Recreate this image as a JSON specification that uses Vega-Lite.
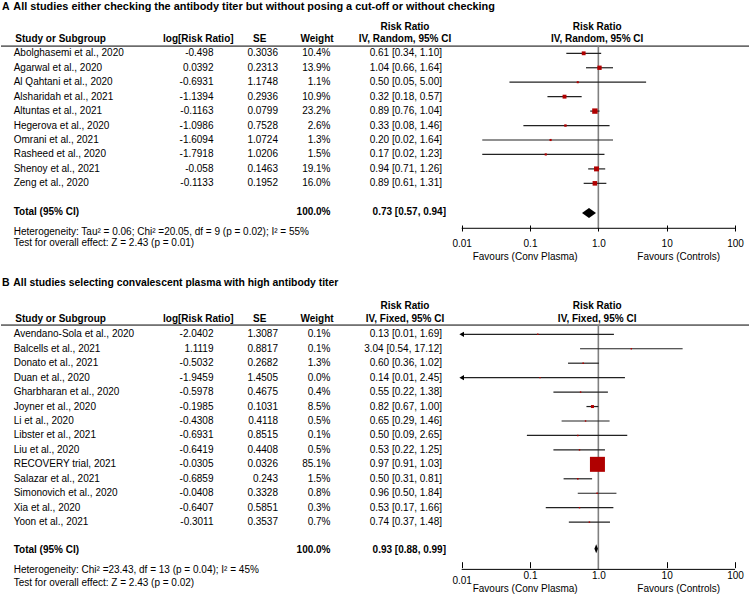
{
  "$schema": "https://vega.github.io/schema/vega-lite/v6.json",
  "padding": 0,
  "spacing": 0,
  "config": {"view": {"stroke": null}, "text": {"font": "Liberation Sans", "fontSize": 10, "color": "black"}},
  "resolve": {"scale": {"size": "independent"}},
  "datasets": {
    "studiesA": [
      {"study": "Abolghasemi et al., 2020", "logrr": "-0.498", "se": "0.3036", "weight": "10.4%", "ci": "0.61 [0.34, 1.10]", "rr": 0.61, "lo": 0.34, "hi": 1.10, "w": 10.4},
      {"study": "Agarwal et al., 2020", "logrr": "0.0392", "se": "0.2313", "weight": "13.9%", "ci": "1.04 [0.66, 1.64]", "rr": 1.04, "lo": 0.66, "hi": 1.64, "w": 13.9},
      {"study": "Al Qahtani et al., 2020", "logrr": "-0.6931", "se": "1.1748", "weight": "1.1%", "ci": "0.50 [0.05, 5.00]", "rr": 0.50, "lo": 0.05, "hi": 5.00, "w": 1.1},
      {"study": "Alsharidah et al., 2021", "logrr": "-1.1394", "se": "0.2936", "weight": "10.9%", "ci": "0.32 [0.18, 0.57]", "rr": 0.32, "lo": 0.18, "hi": 0.57, "w": 10.9},
      {"study": "Altuntas et al., 2021", "logrr": "-0.1163", "se": "0.0799", "weight": "23.2%", "ci": "0.89 [0.76, 1.04]", "rr": 0.89, "lo": 0.76, "hi": 1.04, "w": 23.2},
      {"study": "Hegerova et al., 2020", "logrr": "-1.0986", "se": "0.7528", "weight": "2.6%", "ci": "0.33 [0.08, 1.46]", "rr": 0.33, "lo": 0.08, "hi": 1.46, "w": 2.6},
      {"study": "Omrani et al., 2021", "logrr": "-1.6094", "se": "1.0724", "weight": "1.3%", "ci": "0.20 [0.02, 1.64]", "rr": 0.20, "lo": 0.02, "hi": 1.64, "w": 1.3},
      {"study": "Rasheed et al., 2020", "logrr": "-1.7918", "se": "1.0206", "weight": "1.5%", "ci": "0.17 [0.02, 1.23]", "rr": 0.17, "lo": 0.02, "hi": 1.23, "w": 1.5},
      {"study": "Shenoy et al., 2021", "logrr": "-0.058", "se": "0.1463", "weight": "19.1%", "ci": "0.94 [0.71, 1.26]", "rr": 0.94, "lo": 0.71, "hi": 1.26, "w": 19.1},
      {"study": "Zeng et al., 2020", "logrr": "-0.1133", "se": "0.1952", "weight": "16.0%", "ci": "0.89 [0.61, 1.31]", "rr": 0.89, "lo": 0.61, "hi": 1.31, "w": 16.0}
    ],
    "totalA": [{"label": "Total (95% CI)", "weight": "100.0%", "ci": "0.73 [0.57, 0.94]", "rr": 0.73, "lo": 0.57, "hi": 0.94}],
    "studiesB": [
      {"study": "Avendano-Sola et al., 2020", "logrr": "-2.0402", "se": "1.3087", "weight": "0.1%", "ci": "0.13 [0.01, 1.69]", "rr": 0.13, "lo": 0.01, "hi": 1.69, "w": 0.1},
      {"study": "Balcells et al., 2021", "logrr": "1.1119", "se": "0.8817", "weight": "0.1%", "ci": "3.04 [0.54, 17.12]", "rr": 3.04, "lo": 0.54, "hi": 17.12, "w": 0.1},
      {"study": "Donato et al., 2021", "logrr": "-0.5032", "se": "0.2682", "weight": "1.3%", "ci": "0.60 [0.36, 1.02]", "rr": 0.60, "lo": 0.36, "hi": 1.02, "w": 1.3},
      {"study": "Duan et al., 2020", "logrr": "-1.9459", "se": "1.4505", "weight": "0.0%", "ci": "0.14 [0.01, 2.45]", "rr": 0.14, "lo": 0.01, "hi": 2.45, "w": 0.0},
      {"study": "Gharbharan et al., 2020", "logrr": "-0.5978", "se": "0.4675", "weight": "0.4%", "ci": "0.55 [0.22, 1.38]", "rr": 0.55, "lo": 0.22, "hi": 1.38, "w": 0.4},
      {"study": "Joyner et al., 2020", "logrr": "-0.1985", "se": "0.1031", "weight": "8.5%", "ci": "0.82 [0.67, 1.00]", "rr": 0.82, "lo": 0.67, "hi": 1.00, "w": 8.5},
      {"study": "Li et al., 2020", "logrr": "-0.4308", "se": "0.4118", "weight": "0.5%", "ci": "0.65 [0.29, 1.46]", "rr": 0.65, "lo": 0.29, "hi": 1.46, "w": 0.5},
      {"study": "Libster et al., 2021", "logrr": "-0.6931", "se": "0.8515", "weight": "0.1%", "ci": "0.50 [0.09, 2.65]", "rr": 0.50, "lo": 0.09, "hi": 2.65, "w": 0.1},
      {"study": "Liu et al., 2020", "logrr": "-0.6419", "se": "0.4408", "weight": "0.5%", "ci": "0.53 [0.22, 1.25]", "rr": 0.53, "lo": 0.22, "hi": 1.25, "w": 0.5},
      {"study": "RECOVERY trial, 2021", "logrr": "-0.0305", "se": "0.0326", "weight": "85.1%", "ci": "0.97 [0.91, 1.03]", "rr": 0.97, "lo": 0.91, "hi": 1.03, "w": 85.1},
      {"study": "Salazar et al., 2021", "logrr": "-0.6859", "se": "0.243", "weight": "1.5%", "ci": "0.50 [0.31, 0.81]", "rr": 0.50, "lo": 0.31, "hi": 0.81, "w": 1.5},
      {"study": "Simonovich et al., 2020", "logrr": "-0.0408", "se": "0.3328", "weight": "0.8%", "ci": "0.96 [0.50, 1.84]", "rr": 0.96, "lo": 0.50, "hi": 1.84, "w": 0.8},
      {"study": "Xia et al., 2020", "logrr": "-0.6407", "se": "0.5851", "weight": "0.3%", "ci": "0.53 [0.17, 1.66]", "rr": 0.53, "lo": 0.17, "hi": 1.66, "w": 0.3},
      {"study": "Yoon et al., 2021", "logrr": "-0.3011", "se": "0.3537", "weight": "0.7%", "ci": "0.74 [0.37, 1.48]", "rr": 0.74, "lo": 0.37, "hi": 1.48, "w": 0.7}
    ],
    "totalB": [{"label": "Total (95% CI)", "weight": "100.0%", "ci": "0.93 [0.88, 0.99]", "rr": 0.93, "lo": 0.88, "hi": 0.99}]
  },
  "vconcat": [
    {
      "width": 749, "height": 270,
      "data": {"name": "studiesA"},
      "resolve": {"scale": {"x": "independent"}},
      "layer": [
        {"layer": [
          {"data": {"values": [{}]}, "mark": {"type": "text", "text": "A", "fontWeight": "bold", "fontSize": 10.5, "align": "left"},
           "encoding": {"x": {"datum": 1, "type": "quantitative", "scale": {"domain": [0, 749], "nice": false}, "axis": null}, "y": {"datum": -2.18, "type": "quantitative", "scale": {"domain": [-2.689, 15.997], "reverse": true, "nice": false, "zero": false}, "axis": null}}},
          {"data": {"values": [{}]}, "mark": {"type": "text", "text": "All studies either checking the antibody titer but without posing a cut-off or without checking", "fontWeight": "bold", "fontSize": 10.9, "align": "left"},
           "encoding": {"x": {"datum": 12.3, "type": "quantitative"}, "y": {"datum": -2.18, "type": "quantitative"}}},
          {"data": {"values": [{}]}, "mark": {"type": "rule", "color": "black", "strokeWidth": 1},
           "encoding": {"x": {"datum": 0, "type": "quantitative"}, "x2": {"datum": 749}, "y": {"datum": 0.5, "type": "quantitative"}}},
          {"data": {"values": [{}]}, "mark": {"type": "text", "text": "Study or Subgroup", "fontWeight": "bold", "align": "left"},
           "encoding": {"x": {"datum": 14.3, "type": "quantitative"}, "y": {"datum": 0, "type": "quantitative"}}},
          {"data": {"values": [{}]}, "mark": {"type": "text", "text": "log[Risk Ratio]", "fontWeight": "bold"},
           "encoding": {"x": {"datum": 197.3, "type": "quantitative"}, "y": {"datum": 0, "type": "quantitative"}}},
          {"data": {"values": [{}]}, "mark": {"type": "text", "text": "SE", "fontWeight": "bold"},
           "encoding": {"x": {"datum": 258.7, "type": "quantitative"}, "y": {"datum": 0, "type": "quantitative"}}},
          {"data": {"values": [{}]}, "mark": {"type": "text", "text": "Weight", "fontWeight": "bold"},
           "encoding": {"x": {"datum": 316, "type": "quantitative"}, "y": {"datum": 0, "type": "quantitative"}}},
          {"data": {"values": [{}]}, "mark": {"type": "text", "text": "Risk Ratio", "fontWeight": "bold"},
           "encoding": {"x": {"datum": 404, "type": "quantitative"}, "y": {"datum": -0.84, "type": "quantitative"}}},
          {"data": {"values": [{}]}, "mark": {"type": "text", "text": "IV, Random, 95% CI", "fontWeight": "bold"},
           "encoding": {"x": {"datum": 404, "type": "quantitative"}, "y": {"datum": 0, "type": "quantitative"}}},
          {"transform": [{"window": [{"op": "row_number", "as": "row"}]}], "mark": {"type": "text", "align": "left"},
           "encoding": {"x": {"datum": 12.7, "type": "quantitative"}, "y": {"field": "row", "type": "quantitative"}, "text": {"field": "study"}}},
          {"transform": [{"window": [{"op": "row_number", "as": "row"}]}], "mark": {"type": "text", "align": "right"},
           "encoding": {"x": {"datum": 212.5, "type": "quantitative"}, "y": {"field": "row", "type": "quantitative"}, "text": {"field": "logrr"}}},
          {"transform": [{"window": [{"op": "row_number", "as": "row"}]}], "mark": {"type": "text", "align": "right"},
           "encoding": {"x": {"datum": 277, "type": "quantitative"}, "y": {"field": "row", "type": "quantitative"}, "text": {"field": "se"}}},
          {"transform": [{"window": [{"op": "row_number", "as": "row"}]}], "mark": {"type": "text", "align": "right"},
           "encoding": {"x": {"datum": 329.5, "type": "quantitative"}, "y": {"field": "row", "type": "quantitative"}, "text": {"field": "weight"}}},
          {"transform": [{"window": [{"op": "row_number", "as": "row"}]}], "mark": {"type": "text", "align": "right"},
           "encoding": {"x": {"datum": 441, "type": "quantitative"}, "y": {"field": "row", "type": "quantitative"}, "text": {"field": "ci"}}},
          {"data": {"name": "totalA"}, "mark": {"type": "text", "align": "left", "fontWeight": "bold"},
           "encoding": {"x": {"datum": 12.7, "type": "quantitative"}, "y": {"datum": 12.0, "type": "quantitative"}, "text": {"field": "label"}}},
          {"data": {"name": "totalA"}, "mark": {"type": "text", "align": "right", "fontWeight": "bold"},
           "encoding": {"x": {"datum": 329.5, "type": "quantitative"}, "y": {"datum": 12.0, "type": "quantitative"}, "text": {"field": "weight"}}},
          {"data": {"name": "totalA"}, "mark": {"type": "text", "align": "right", "fontWeight": "bold"},
           "encoding": {"x": {"datum": 445, "type": "quantitative"}, "y": {"datum": 12.0, "type": "quantitative"}, "text": {"field": "ci"}}},
          {"data": {"values": [{}]}, "mark": {"type": "text", "text": "Heterogeneity: Tau² = 0.06; Chi² =20.05, df = 9 (p = 0.02); I² = 55%", "align": "left"},
           "encoding": {"x": {"datum": 12.7, "type": "quantitative"}, "y": {"datum": 13.35, "type": "quantitative"}}},
          {"data": {"values": [{}]}, "mark": {"type": "text", "text": "Test for overall effect: Z = 2.43 (p = 0.01)", "align": "left"},
           "encoding": {"x": {"datum": 12.7, "type": "quantitative"}, "y": {"datum": 14.15, "type": "quantitative"}}}
        ]},
        {"layer": [
          {"data": {"values": [{}]}, "mark": {"type": "rule", "color": "#808080", "strokeWidth": 1.6},
           "encoding": {"x": {"datum": 1, "type": "quantitative", "scale": {"type": "log", "domain": [1.81e-9, 165.8], "nice": false},
              "axis": {"orient": "bottom", "values": [0.01, 0.1, 1, 10, 100], "domain": false, "grid": false, "ticks": true, "tickSize": 6, "tickColor": "black", "tickWidth": 1, "offset": -45, "labelPadding": 7, "labelFont": "Liberation Sans", "labelFontSize": 10, "labelColor": "black", "labelOverlap": false, "labelFlush": false, "labelExpr": "datum.value == 1 ? '1.0' : datum.label", "title": null}},
             "y": {"datum": 0.5, "type": "quantitative"}, "y2": {"datum": 13.11}}},
          {"data": {"values": [{}]}, "mark": {"type": "rule", "color": "black", "strokeWidth": 1},
           "encoding": {"x": {"datum": 0.01, "type": "quantitative", "title": null}, "x2": {"datum": 100}, "y": {"datum": 13.11, "type": "quantitative"}}},
          {"transform": [{"window": [{"op": "row_number", "as": "row"}]}], "mark": {"type": "rule", "color": "#222222", "strokeWidth": 1.2},
           "encoding": {"x": {"field": "lo", "type": "quantitative", "title": null}, "x2": {"field": "hi"}, "y": {"field": "row", "type": "quantitative"}}},
          {"transform": [{"window": [{"op": "row_number", "as": "row"}]}], "mark": {"type": "point", "shape": "square", "filled": true, "color": "#b00000", "opacity": 1},
           "encoding": {"x": {"field": "rr", "type": "quantitative", "title": null}, "y": {"field": "row", "type": "quantitative"},
             "size": {"field": "w", "type": "quantitative", "scale": {"type": "linear", "domain": [0, 23.2], "range": [3, 29]}, "legend": null}}},
          {"data": {"name": "totalA"}, "mark": {"type": "point", "shape": "M-1,0L0,-0.72L1,0L0,0.72Z", "filled": true, "color": "black", "opacity": 1, "size": 196},
           "encoding": {"x": {"field": "rr", "type": "quantitative", "title": null}, "y": {"datum": 12.05, "type": "quantitative"}}},
          {"data": {"values": [{}]}, "mark": {"type": "text", "text": "Risk Ratio", "fontWeight": "bold"},
           "encoding": {"x": {"datum": 0.96, "type": "quantitative", "title": null}, "y": {"datum": -0.84, "type": "quantitative"}}},
          {"data": {"values": [{}]}, "mark": {"type": "text", "text": "IV, Random, 95% CI", "fontWeight": "bold"},
           "encoding": {"x": {"datum": 0.96, "type": "quantitative", "title": null}, "y": {"datum": 0, "type": "quantitative"}}},
          {"data": {"values": [{}]}, "mark": {"type": "text", "text": "Favours (Conv Plasma)"},
           "encoding": {"x": {"datum": 0.085, "type": "quantitative", "title": null}, "y": {"datum": 15.08, "type": "quantitative"}}},
          {"data": {"values": [{}]}, "mark": {"type": "text", "text": "Favours (Controls)"},
           "encoding": {"x": {"datum": 15, "type": "quantitative", "title": null}, "y": {"datum": 15.08, "type": "quantitative"}}}
        ]}
      ]
    },
    {
      "width": 749, "height": 329,
      "data": {"name": "studiesB"},
      "resolve": {"scale": {"x": "independent"}},
      "layer": [
        {"layer": [
          {"data": {"values": [{}]}, "mark": {"type": "text", "text": "B", "fontWeight": "bold", "fontSize": 10.5, "align": "left"},
           "encoding": {"x": {"datum": 1, "type": "quantitative", "scale": {"domain": [0, 749], "nice": false}, "axis": null}, "y": {"datum": -2.53, "type": "quantitative", "scale": {"domain": [-3.45, 19.32], "reverse": true, "nice": false, "zero": false}, "axis": null}}},
          {"data": {"values": [{}]}, "mark": {"type": "text", "text": "All studies selecting convalescent plasma with high antibody titer", "fontWeight": "bold", "fontSize": 10.4, "align": "left"},
           "encoding": {"x": {"datum": 12.3, "type": "quantitative"}, "y": {"datum": -2.53, "type": "quantitative"}}},
          {"data": {"values": [{}]}, "mark": {"type": "rule", "color": "black", "strokeWidth": 1},
           "encoding": {"x": {"datum": 0, "type": "quantitative"}, "x2": {"datum": 749}, "y": {"datum": 0.36, "type": "quantitative"}}},
          {"data": {"values": [{}]}, "mark": {"type": "text", "text": "Study or Subgroup", "fontWeight": "bold", "align": "left"},
           "encoding": {"x": {"datum": 14.3, "type": "quantitative"}, "y": {"datum": -0.09, "type": "quantitative"}}},
          {"data": {"values": [{}]}, "mark": {"type": "text", "text": "log[Risk Ratio]", "fontWeight": "bold"},
           "encoding": {"x": {"datum": 197.3, "type": "quantitative"}, "y": {"datum": -0.09, "type": "quantitative"}}},
          {"data": {"values": [{}]}, "mark": {"type": "text", "text": "SE", "fontWeight": "bold"},
           "encoding": {"x": {"datum": 258.7, "type": "quantitative"}, "y": {"datum": -0.09, "type": "quantitative"}}},
          {"data": {"values": [{}]}, "mark": {"type": "text", "text": "Weight", "fontWeight": "bold"},
           "encoding": {"x": {"datum": 316, "type": "quantitative"}, "y": {"datum": -0.09, "type": "quantitative"}}},
          {"data": {"values": [{}]}, "mark": {"type": "text", "text": "Risk Ratio", "fontWeight": "bold"},
           "encoding": {"x": {"datum": 404, "type": "quantitative"}, "y": {"datum": -0.96, "type": "quantitative"}}},
          {"data": {"values": [{}]}, "mark": {"type": "text", "text": "IV, Fixed, 95% CI", "fontWeight": "bold"},
           "encoding": {"x": {"datum": 404, "type": "quantitative"}, "y": {"datum": -0.09, "type": "quantitative"}}},
          {"transform": [{"window": [{"op": "row_number", "as": "row"}]}], "mark": {"type": "text", "align": "left"},
           "encoding": {"x": {"datum": 12.7, "type": "quantitative"}, "y": {"field": "row", "type": "quantitative"}, "text": {"field": "study"}}},
          {"transform": [{"window": [{"op": "row_number", "as": "row"}]}], "mark": {"type": "text", "align": "right"},
           "encoding": {"x": {"datum": 212.5, "type": "quantitative"}, "y": {"field": "row", "type": "quantitative"}, "text": {"field": "logrr"}}},
          {"transform": [{"window": [{"op": "row_number", "as": "row"}]}], "mark": {"type": "text", "align": "right"},
           "encoding": {"x": {"datum": 277, "type": "quantitative"}, "y": {"field": "row", "type": "quantitative"}, "text": {"field": "se"}}},
          {"transform": [{"window": [{"op": "row_number", "as": "row"}]}], "mark": {"type": "text", "align": "right"},
           "encoding": {"x": {"datum": 329.5, "type": "quantitative"}, "y": {"field": "row", "type": "quantitative"}, "text": {"field": "weight"}}},
          {"transform": [{"window": [{"op": "row_number", "as": "row"}]}], "mark": {"type": "text", "align": "right"},
           "encoding": {"x": {"datum": 441, "type": "quantitative"}, "y": {"field": "row", "type": "quantitative"}, "text": {"field": "ci"}}},
          {"data": {"name": "totalB"}, "mark": {"type": "text", "align": "left", "fontWeight": "bold"},
           "encoding": {"x": {"datum": 12.7, "type": "quantitative"}, "y": {"datum": 15.9, "type": "quantitative"}, "text": {"field": "label"}}},
          {"data": {"name": "totalB"}, "mark": {"type": "text", "align": "right", "fontWeight": "bold"},
           "encoding": {"x": {"datum": 329.5, "type": "quantitative"}, "y": {"datum": 15.9, "type": "quantitative"}, "text": {"field": "weight"}}},
          {"data": {"name": "totalB"}, "mark": {"type": "text", "align": "right", "fontWeight": "bold"},
           "encoding": {"x": {"datum": 445, "type": "quantitative"}, "y": {"datum": 15.9, "type": "quantitative"}, "text": {"field": "ci"}}},
          {"data": {"values": [{}]}, "mark": {"type": "text", "text": "Heterogeneity: Chi² =23.43, df = 13 (p = 0.04); I² = 45%", "align": "left"},
           "encoding": {"x": {"datum": 12.7, "type": "quantitative"}, "y": {"datum": 17.32, "type": "quantitative"}}},
          {"data": {"values": [{}]}, "mark": {"type": "text", "text": "Test for overall effect: Z = 2.43 (p = 0.02)", "align": "left"},
           "encoding": {"x": {"datum": 12.7, "type": "quantitative"}, "y": {"datum": 18.2, "type": "quantitative"}}}
        ]},
        {"layer": [
          {"data": {"values": [{}]}, "mark": {"type": "rule", "color": "#808080", "strokeWidth": 1.6},
           "encoding": {"x": {"datum": 1, "type": "quantitative", "scale": {"type": "log", "domain": [1.81e-9, 165.8], "nice": false},
              "axis": {"orient": "bottom", "values": [0.01, 0.1, 1, 10, 100], "domain": false, "grid": false, "ticks": true, "tickSize": 6, "tickColor": "black", "tickWidth": 1, "offset": -37.3, "labelPadding": {"condition": {"test": "datum.value == 0.01", "value": 7.5}, "value": 3}, "labelFont": "Liberation Sans", "labelFontSize": 10, "labelColor": "black", "labelOverlap": false, "labelFlush": false, "labelExpr": "datum.value == 1 ? '1.0' : datum.label", "title": null}},
             "y": {"datum": 0.36, "type": "quantitative"}, "y2": {"datum": 17.27}}},
          {"data": {"values": [{}]}, "mark": {"type": "rule", "color": "black", "strokeWidth": 1},
           "encoding": {"x": {"datum": 0.01, "type": "quantitative", "title": null}, "x2": {"datum": 100}, "y": {"datum": 17.27, "type": "quantitative"}}},
          {"transform": [{"window": [{"op": "row_number", "as": "row"}]}], "mark": {"type": "rule", "color": "#222222", "strokeWidth": 1.2},
           "encoding": {"x": {"field": "lo", "type": "quantitative", "title": null}, "x2": {"field": "hi"}, "y": {"field": "row", "type": "quantitative"}}},
          {"transform": [{"window": [{"op": "row_number", "as": "row"}]}, {"filter": "datum.lo <= 0.01"}], "mark": {"type": "point", "shape": "triangle-left", "filled": true, "color": "black", "opacity": 1, "size": 28},
           "encoding": {"x": {"field": "lo", "type": "quantitative", "title": null}, "y": {"field": "row", "type": "quantitative"}}},
          {"transform": [{"window": [{"op": "row_number", "as": "row"}]}], "mark": {"type": "point", "shape": "square", "filled": true, "color": "#b00000", "opacity": 1},
           "encoding": {"x": {"field": "rr", "type": "quantitative", "title": null}, "y": {"field": "row", "type": "quantitative"},
             "size": {"field": "w", "type": "quantitative", "scale": {"type": "pow", "exponent": 1.5, "domain": [0, 85.1], "range": [2, 225]}, "legend": null}}},
          {"data": {"name": "totalB"}, "mark": {"type": "point", "shape": "M-0.39,0L0,-1L0.39,0L0,1Z", "filled": true, "color": "black", "opacity": 1, "size": 81},
           "encoding": {"x": {"field": "rr", "type": "quantitative", "title": null}, "y": {"datum": 15.85, "type": "quantitative"}}},
          {"data": {"values": [{}]}, "mark": {"type": "text", "text": "Risk Ratio", "fontWeight": "bold"},
           "encoding": {"x": {"datum": 0.96, "type": "quantitative", "title": null}, "y": {"datum": -0.96, "type": "quantitative"}}},
          {"data": {"values": [{}]}, "mark": {"type": "text", "text": "IV, Fixed, 95% CI", "fontWeight": "bold"},
           "encoding": {"x": {"datum": 0.96, "type": "quantitative", "title": null}, "y": {"datum": -0.09, "type": "quantitative"}}},
          {"data": {"values": [{}]}, "mark": {"type": "text", "text": "Favours (Conv Plasma)"},
           "encoding": {"x": {"datum": 0.085, "type": "quantitative", "title": null}, "y": {"datum": 18.6, "type": "quantitative"}}},
          {"data": {"values": [{}]}, "mark": {"type": "text", "text": "Favours (Controls)"},
           "encoding": {"x": {"datum": 15, "type": "quantitative", "title": null}, "y": {"datum": 18.6, "type": "quantitative"}}}
        ]}
      ]
    }
  ]
}
